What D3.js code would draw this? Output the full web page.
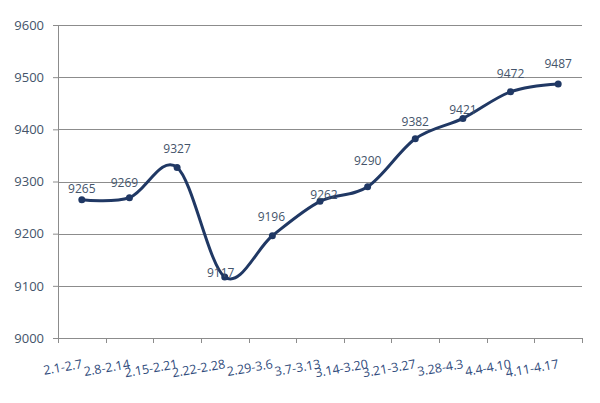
<!DOCTYPE html>
<html>
<head>
<meta charset="utf-8">
<script src="https://cdn.jsdelivr.net/npm/d3@7"></script>
<style>
  body { margin: 0; background: #fff; }
  text { font-family: "Open Sans", "Noto Sans", sans-serif; }
</style>
</head>
<body>
<svg id="chart" width="600" height="403"></svg>
<script>
// weekly values
var weeks = ["2.1-2.7", "2.8-2.14", "2.15-2.21", "2.22-2.28", "2.29-3.6", "3.7-3.13",
             "3.14-3.20", "3.21-3.27", "3.28-4.3", "4.4-4.10", "4.11-4.17"];
var values = [9265, 9269, 9327, 9117, 9196, 9262, 9290, 9382, 9421, 9472, 9487];
var yTicks = [9000, 9100, 9200, 9300, 9400, 9500, 9600];

// label nudges (px) so the value labels sit where the original put them
var labelDx = [0, -5, 0, -4, -1, 4, 0, 0, 0, 0, 0];
var labelDy = [-7, -11, -14, 0, -15, -2, -22, -13, -4, -14, -16];

var svg = d3.select("#chart"),
    margin = {top: 25, right: 18, bottom: 65, left: 58},
    width = +svg.attr("width") - margin.left - margin.right,
    height = +svg.attr("height") - margin.top - margin.bottom,
    g = svg.append("g").attr("transform", "translate(" + margin.left + "," + margin.top + ")");

var x = d3.scaleBand().domain(weeks).range([0, width]);
var y = d3.scaleLinear().domain([9000, 9600]).range([height, 0]);

var gridColor = "#8c8c8c";

// horizontal gridlines
g.selectAll(".grid")
  .data(yTicks.slice(1))
  .enter().append("line")
    .attr("class", "grid")
    .attr("x1", 0).attr("x2", width)
    .attr("y1", function(d) { return Math.round(y(d)) + 0.5; })
    .attr("y2", function(d) { return Math.round(y(d)) + 0.5; })
    .style("stroke", gridColor);

// y axis
var yAxis = g.append("g")
    .call(d3.axisLeft(y).tickValues(yTicks).tickSize(5).tickPadding(9).tickFormat(d3.format("d")));
yAxis.select(".domain").style("stroke", gridColor);
yAxis.selectAll(".tick line").style("stroke", gridColor);
yAxis.selectAll("text")
    .style("font-size", "13px")
    .style("fill", "#44546a");

// x axis, ticks on the band edges
var edges = weeks.map(function(d) { return x(d); }).concat([width]);
var xAxisG = g.append("g").attr("transform", "translate(0," + height + ")");
xAxisG.append("line")
    .attr("x1", 0).attr("x2", width)
    .attr("y1", 0.5).attr("y2", 0.5)
    .style("stroke", gridColor);
xAxisG.selectAll(".xtick")
  .data(edges)
  .enter().append("line")
    .attr("class", "xtick")
    .attr("x1", function(d) { return Math.round(d) + 0.5; })
    .attr("x2", function(d) { return Math.round(d) + 0.5; })
    .attr("y1", 0).attr("y2", 5)
    .style("stroke", gridColor);
xAxisG.selectAll(".xlabel")
  .data(weeks)
  .enter().append("text")
    .attr("class", "xlabel")
    .attr("text-anchor", "end")
    .attr("transform", function(d) {
      return "translate(" + (x(d) + x.bandwidth() / 2 + 1) + ",30) rotate(-10)";
    })
    .style("font-size", "12.5px")
    .style("fill", "#2f4b7c")
    .text(function(d) { return d; });

// smoothed line
var line = d3.line()
    .x(function(d, i) { return x(weeks[i]) + x.bandwidth() / 2; })
    .y(function(d) { return y(d); })
    .curve(d3.curveCatmullRom.alpha(0));

g.append("path")
    .datum(values)
    .attr("d", line)
    .style("fill", "none")
    .style("stroke", "#203864")
    .style("stroke-width", 3)
    .style("stroke-linejoin", "round");

g.selectAll(".dot")
  .data(values)
  .enter().append("circle")
    .attr("class", "dot")
    .attr("cx", function(d, i) { return x(weeks[i]) + x.bandwidth() / 2; })
    .attr("cy", function(d) { return y(d); })
    .attr("r", 3.5)
    .style("fill", "#203864");

// value labels
g.selectAll(".vlabel")
  .data(values)
  .enter().append("text")
    .attr("class", "vlabel")
    .attr("text-anchor", "middle")
    .attr("x", function(d, i) { return x(weeks[i]) + x.bandwidth() / 2 + labelDx[i]; })
    .attr("y", function(d, i) { return y(d) + labelDy[i]; })
    .style("font-size", "12px")
    .style("fill", "#44546a")
    .text(function(d) { return d; });
</script>
</body>
</html>
